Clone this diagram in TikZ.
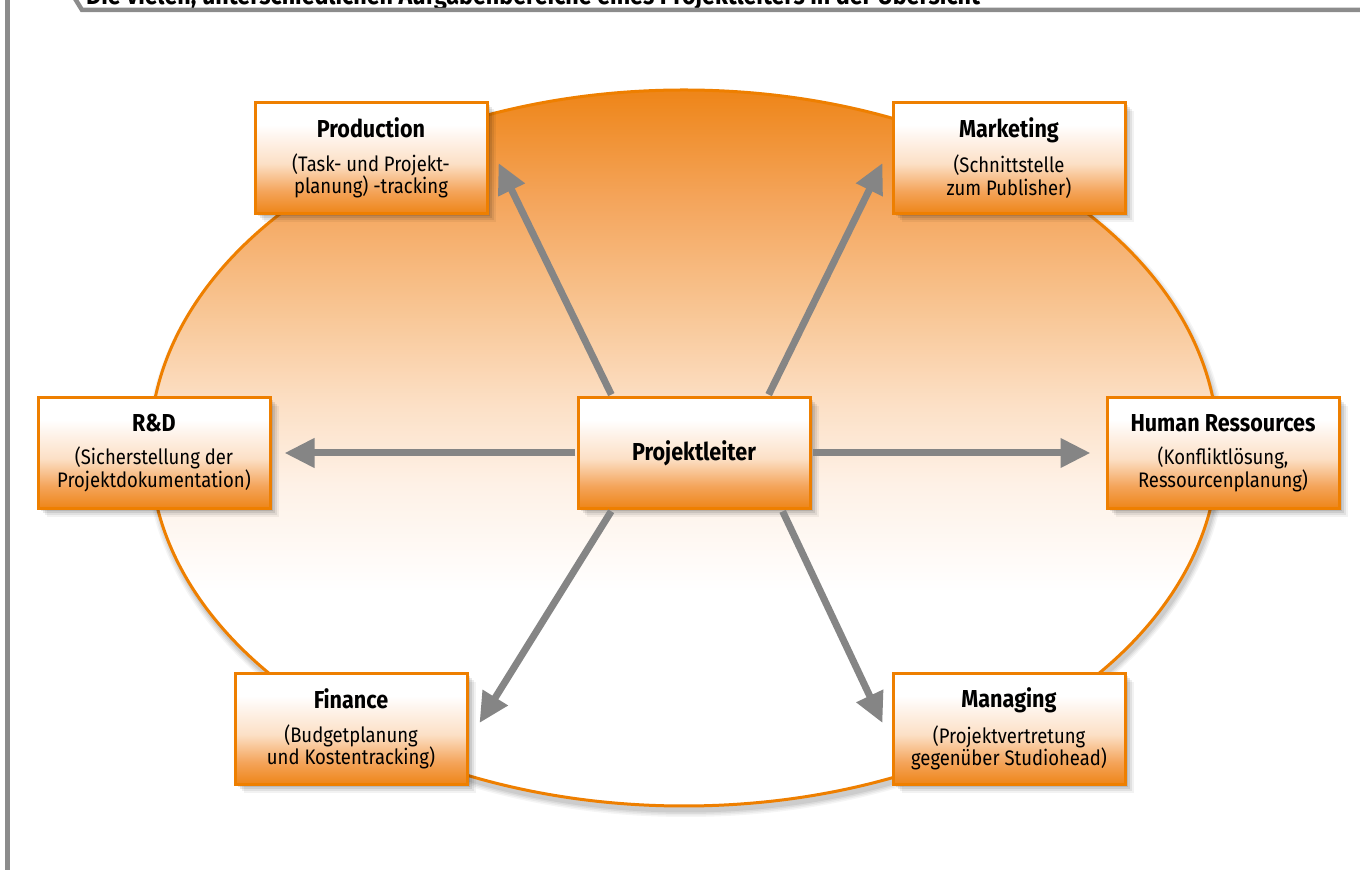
\documentclass[tikz,border=0pt]{standalone}
\usepackage{fontspec}
\setmainfont{Fira Sans}[FakeStretch=0.88]
\usetikzlibrary{arrows.meta}

\definecolor{rim}{HTML}{EE7F00}
\definecolor{arrowgray}{HTML}{858585}
\definecolor{framegray}{HTML}{8C8C8C}
\definecolor{orA}{HTML}{EE8518}
\definecolor{orB}{HTML}{F4A45A}
\definecolor{orC}{HTML}{F8C491}
\definecolor{orD}{HTML}{FCE0C6}
\definecolor{orE}{HTML}{FEF1E6}

% ellipse: orange at the top, fading to white in the lower part
\pgfdeclareverticalshading{ovalshade}{100bp}{%
  color(0bp)=(white); color(25bp)=(white); color(40bp)=(white);
  color(47.5bp)=(orE); color(53bp)=(orD); color(60bp)=(orC);
  color(67.5bp)=(orB); color(75bp)=(orA); color(100bp)=(orA)}
% boxes: white at the top, orange at the bottom
\pgfdeclareverticalshading{boxshade}{100bp}{%
  color(0bp)=(orA); color(25bp)=(orA); color(35bp)=(orB);
  color(47.5bp)=(orD); color(57.5bp)=(orE); color(65bp)=(white);
  color(100bp)=(white)}

\newcommand{\hd}[1]{{\fontsize{24.5}{22.5}\selectfont\bfseries #1}}

\begin{document}
\begin{tikzpicture}[x=1pt,y=1pt,
  softshadow/.style={preaction={fill=black, opacity=#1,
    transform canvas={shift={(6pt,-6pt)}}}},
  taskbox/.style={draw=rim, line width=3pt, shade, shading=boxshade,
    minimum width=232pt, minimum height=111pt, inner sep=0pt,
    align=center, font=\fontsize{21}{22.5}\selectfont,
    preaction={fill=black, opacity=0.05, transform canvas={shift={(9pt,-9pt)}}},
    preaction={fill=black, opacity=0.07, transform canvas={shift={(7pt,-7pt)}}},
    preaction={fill=black, opacity=0.09, transform canvas={shift={(5pt,-5pt)}}},
    preaction={fill=black, opacity=0.10, transform canvas={shift={(3pt,-3pt)}}}},
  arr/.style={draw=arrowgray, line width=7pt, shorten <=1.5pt,
    -{Triangle[length=30pt,width=28pt]}}]

\useasboundingbox (0,0) rectangle (1360,870);

% background oval with a soft shadow beneath it
\foreach \r/\o in {6/0.04,4.5/0.05,3/0.06,1.5/0.07}
  \fill[black, opacity=\o] (686,417) ellipse [x radius=534+\r, y radius=358+\r];
\path[draw=rim, line width=3pt, shade, shading=ovalshade]
  (684,422) ellipse [x radius=534, y radius=358];

% task areas
\node[taskbox] (pl)   at (694,417)  {\hd{Projektleiter}};
\node[taskbox] (prod) at (371,712)  {\hd{Production}\\[11pt](Task- und Projekt-\\planung) -tracking};
\node[taskbox] (mk)   at (1009,712) {\hd{Marketing}\\[11pt](Schnittstelle\\zum Publisher)};
\node[taskbox] (rd)   at (154,417)  {\hd{R\&D}\\[11pt](Sicherstellung der\\Projektdokumentation)};
\node[taskbox] (hr)   at (1223,417) {\hd{Human Ressources}\\[11pt](Konfliktlösung,\\Ressourcenplanung)};
\node[taskbox] (fin)  at (351,141)  {\hd{Finance}\\[11pt](Budgetplanung\\und Kostentracking)};
\node[taskbox] (mg)   at (1009,141) {\hd{Managing}\\[11pt](Projektvertretung\\gegenüber Studiohead)};

% connectors from the project lead outwards
\draw[arr] ([xshift=-82pt]pl.north) -- ([shift={(10pt,-5pt)}]prod.east);
\draw[arr] ([xshift=74pt]pl.north)  -- ([shift={(-9pt,-5pt)}]mk.west);
\draw[arr] (pl.west) -- ([xshift=13pt]rd.east);
\draw[arr] (pl.east) -- ([xshift=-15pt]hr.west);
\draw[arr] ([xshift=-82pt]pl.south) -- ([shift={(11pt,6pt)}]fin.east);
\draw[arr] ([xshift=88pt]pl.south)  -- ([shift={(-9pt,6pt)}]mg.west);

% page frame and caption strip
\begin{scope}
\clip (0,0) rectangle (1360,870);
\fill[white] (74,872) -- (82,860) -- (1362,860) -- (1362,872) -- cycle;
\node[anchor=base west, inner sep=0pt,
  font=\fontsize{26.5}{28}\selectfont\bfseries] (caption) at (86,865)
  {Die vielen, unterschiedlichen Aufgabenbereiche eines Projektleiters in der Übersicht};
\draw[framegray, line width=4.5pt] (74,873) -- (82,860) -- (1362,860);
\draw[framegray, line width=5pt] (7.5,-2) -- (7.5,872);
\end{scope}

\end{tikzpicture}
\end{document}
